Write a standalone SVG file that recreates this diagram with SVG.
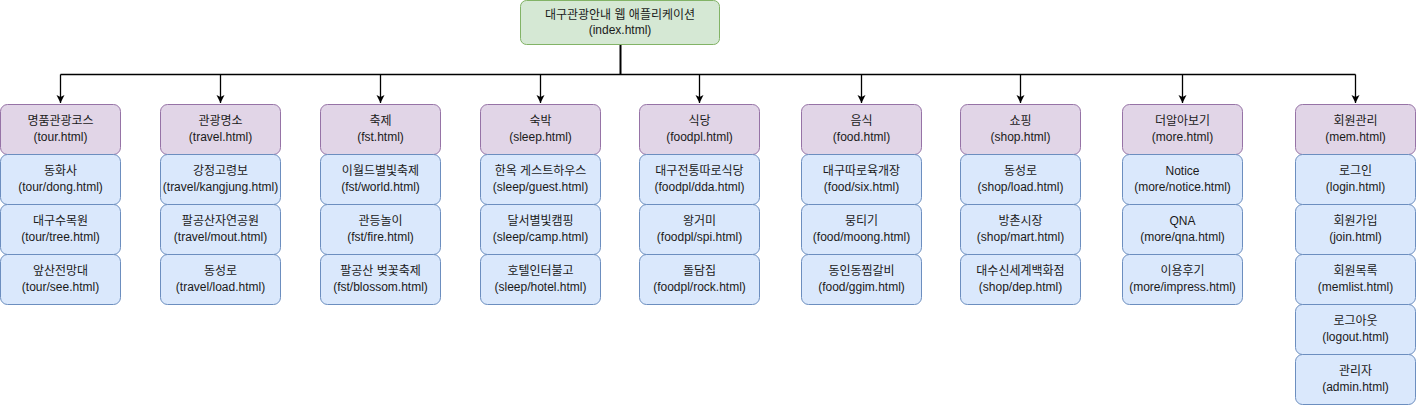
<svg xmlns="http://www.w3.org/2000/svg" width="1416" height="405" viewBox="0 0 1416 405">
<style>
text{font-family:"Liberation Sans","Noto Sans CJK KR",sans-serif;font-size:12px;fill:#1a1a1a;text-anchor:middle}
.root{fill:#d5e8d4;stroke:#82b366;stroke-width:1}
.cat{fill:#e1d5e7;stroke:#9673a6;stroke-width:1}
.sub{fill:#dae8fc;stroke:#6c8ebf;stroke-width:1}
.ln{fill:none;stroke:#000;stroke-width:1.3}
</style>
<defs>
<marker id="ah" markerWidth="10" markerHeight="10" refX="8" refY="4.5" orient="auto" markerUnits="userSpaceOnUse">
<path d="M0,0.5 L8,4.5 L0,8.5 L2,4.5 Z" fill="#000"/>
</marker>
</defs>
<g id="connectors">
<path class="ln" d="M620.5,44 V74" style="stroke-width:2"/>
<path class="ln" d="M60.5,74.5 H1355.5"/>
<path class="ln" d="M60.5,74.5 V103" marker-end="url(#ah)"/>
<path class="ln" d="M220.5,74.5 V103" marker-end="url(#ah)"/>
<path class="ln" d="M380.5,74.5 V103" marker-end="url(#ah)"/>
<path class="ln" d="M540.5,74.5 V103" marker-end="url(#ah)"/>
<path class="ln" d="M699.5,74.5 V103" marker-end="url(#ah)"/>
<path class="ln" d="M861.5,74.5 V103" marker-end="url(#ah)"/>
<path class="ln" d="M1020.5,74.5 V103" marker-end="url(#ah)"/>
<path class="ln" d="M1182.5,74.5 V103" marker-end="url(#ah)"/>
<path class="ln" d="M1355.5,74.5 V103" marker-end="url(#ah)"/>
</g>
<g id="root"><rect class="root" x="520.5" y="0.5" width="199" height="44" rx="6"/><text x="620" y="19">대구관광안내 웹 애플리케이션</text><text x="620" y="34">(index.html)</text></g>

<g id="tour"><rect class="cat" x="0.5" y="104.5" width="120" height="50" rx="7"/><text x="60.5" y="125">명품관광코스</text><text x="60.5" y="141">(tour.html)</text></g>
<g id="tour-dong"><rect class="sub" x="0.5" y="154.5" width="120" height="50" rx="7"/><text x="60.5" y="175">동화사</text><text x="60.5" y="191">(tour/dong.html)</text></g>
<g id="tour-tree"><rect class="sub" x="0.5" y="204.5" width="120" height="50" rx="7"/><text x="60.5" y="225">대구수목원</text><text x="60.5" y="241">(tour/tree.html)</text></g>
<g id="tour-see"><rect class="sub" x="0.5" y="254.5" width="120" height="50" rx="7"/><text x="60.5" y="275">앞산전망대</text><text x="60.5" y="291">(tour/see.html)</text></g>

<g id="travel"><rect class="cat" x="160.5" y="104.5" width="120" height="50" rx="7"/><text x="220.5" y="125">관광명소</text><text x="220.5" y="141">(travel.html)</text></g>
<g id="travel-kangjung"><rect class="sub" x="160.5" y="154.5" width="120" height="50" rx="7"/><text x="220.5" y="175">강정고령보</text><text x="220.5" y="191">(travel/kangjung.html)</text></g>
<g id="travel-mout"><rect class="sub" x="160.5" y="204.5" width="120" height="50" rx="7"/><text x="220.5" y="225">팔공산자연공원</text><text x="220.5" y="241">(travel/mout.html)</text></g>
<g id="travel-load"><rect class="sub" x="160.5" y="254.5" width="120" height="50" rx="7"/><text x="220.5" y="275">동성로</text><text x="220.5" y="291">(travel/load.html)</text></g>

<g id="fst"><rect class="cat" x="320.5" y="104.5" width="120" height="50" rx="7"/><text x="380.5" y="125">축제</text><text x="380.5" y="141">(fst.html)</text></g>
<g id="fst-world"><rect class="sub" x="320.5" y="154.5" width="120" height="50" rx="7"/><text x="380.5" y="175">이월드별빛축제</text><text x="380.5" y="191">(fst/world.html)</text></g>
<g id="fst-fire"><rect class="sub" x="320.5" y="204.5" width="120" height="50" rx="7"/><text x="380.5" y="225">관등놀이</text><text x="380.5" y="241">(fst/fire.html)</text></g>
<g id="fst-blossom"><rect class="sub" x="320.5" y="254.5" width="120" height="50" rx="7"/><text x="380.5" y="275">팔공산 벚꽃축제</text><text x="380.5" y="291">(fst/blossom.html)</text></g>

<g id="sleep"><rect class="cat" x="480.5" y="104.5" width="120" height="50" rx="7"/><text x="540.5" y="125">숙박</text><text x="540.5" y="141">(sleep.html)</text></g>
<g id="sleep-guest"><rect class="sub" x="480.5" y="154.5" width="120" height="50" rx="7"/><text x="540.5" y="175">한옥 게스트하우스</text><text x="540.5" y="191">(sleep/guest.html)</text></g>
<g id="sleep-camp"><rect class="sub" x="480.5" y="204.5" width="120" height="50" rx="7"/><text x="540.5" y="225">달서별빛캠핑</text><text x="540.5" y="241">(sleep/camp.html)</text></g>
<g id="sleep-hotel"><rect class="sub" x="480.5" y="254.5" width="120" height="50" rx="7"/><text x="540.5" y="275">호텔인터불고</text><text x="540.5" y="291">(sleep/hotel.html)</text></g>

<g id="foodpl"><rect class="cat" x="639.5" y="104.5" width="120" height="50" rx="7"/><text x="699.5" y="125">식당</text><text x="699.5" y="141">(foodpl.html)</text></g>
<g id="foodpl-dda"><rect class="sub" x="639.5" y="154.5" width="120" height="50" rx="7"/><text x="699.5" y="175">대구전통따로식당</text><text x="699.5" y="191">(foodpl/dda.html)</text></g>
<g id="foodpl-spi"><rect class="sub" x="639.5" y="204.5" width="120" height="50" rx="7"/><text x="699.5" y="225">왕거미</text><text x="699.5" y="241">(foodpl/spi.html)</text></g>
<g id="foodpl-rock"><rect class="sub" x="639.5" y="254.5" width="120" height="50" rx="7"/><text x="699.5" y="275">돌담집</text><text x="699.5" y="291">(foodpl/rock.html)</text></g>

<g id="food"><rect class="cat" x="801.5" y="104.5" width="120" height="50" rx="7"/><text x="861.5" y="125">음식</text><text x="861.5" y="141">(food.html)</text></g>
<g id="food-six"><rect class="sub" x="801.5" y="154.5" width="120" height="50" rx="7"/><text x="861.5" y="175">대구따로육개장</text><text x="861.5" y="191">(food/six.html)</text></g>
<g id="food-moong"><rect class="sub" x="801.5" y="204.5" width="120" height="50" rx="7"/><text x="861.5" y="225">뭉티기</text><text x="861.5" y="241">(food/moong.html)</text></g>
<g id="food-ggim"><rect class="sub" x="801.5" y="254.5" width="120" height="50" rx="7"/><text x="861.5" y="275">동인동찜갈비</text><text x="861.5" y="291">(food/ggim.html)</text></g>

<g id="shop"><rect class="cat" x="960.5" y="104.5" width="120" height="50" rx="7"/><text x="1020.5" y="125">쇼핑</text><text x="1020.5" y="141">(shop.html)</text></g>
<g id="shop-load"><rect class="sub" x="960.5" y="154.5" width="120" height="50" rx="7"/><text x="1020.5" y="175">동성로</text><text x="1020.5" y="191">(shop/load.html)</text></g>
<g id="shop-mart"><rect class="sub" x="960.5" y="204.5" width="120" height="50" rx="7"/><text x="1020.5" y="225">방촌시장</text><text x="1020.5" y="241">(shop/mart.html)</text></g>
<g id="shop-dep"><rect class="sub" x="960.5" y="254.5" width="120" height="50" rx="7"/><text x="1020.5" y="275">대수신세계백화점</text><text x="1020.5" y="291">(shop/dep.html)</text></g>

<g id="more"><rect class="cat" x="1122.5" y="104.5" width="120" height="50" rx="7"/><text x="1182.5" y="125">더알아보기</text><text x="1182.5" y="141">(more.html)</text></g>
<g id="more-notice"><rect class="sub" x="1122.5" y="154.5" width="120" height="50" rx="7"/><text x="1182.5" y="175">Notice</text><text x="1182.5" y="191">(more/notice.html)</text></g>
<g id="more-qna"><rect class="sub" x="1122.5" y="204.5" width="120" height="50" rx="7"/><text x="1182.5" y="225">QNA</text><text x="1182.5" y="241">(more/qna.html)</text></g>
<g id="more-impress"><rect class="sub" x="1122.5" y="254.5" width="120" height="50" rx="7"/><text x="1182.5" y="275">이용후기</text><text x="1182.5" y="291">(more/impress.html)</text></g>

<g id="mem"><rect class="cat" x="1295.5" y="104.5" width="120" height="50" rx="7"/><text x="1355.5" y="125">회원관리</text><text x="1355.5" y="141">(mem.html)</text></g>
<g id="mem-login"><rect class="sub" x="1295.5" y="154.5" width="120" height="50" rx="7"/><text x="1355.5" y="175">로그인</text><text x="1355.5" y="191">(login.html)</text></g>
<g id="mem-join"><rect class="sub" x="1295.5" y="204.5" width="120" height="50" rx="7"/><text x="1355.5" y="225">회원가입</text><text x="1355.5" y="241">(join.html)</text></g>
<g id="mem-list"><rect class="sub" x="1295.5" y="254.5" width="120" height="50" rx="7"/><text x="1355.5" y="275">회원목록</text><text x="1355.5" y="291">(memlist.html)</text></g>
<g id="mem-logout"><rect class="sub" x="1295.5" y="304.5" width="120" height="50" rx="7"/><text x="1355.5" y="325">로그아웃</text><text x="1355.5" y="341">(logout.html)</text></g>
<g id="mem-admin"><rect class="sub" x="1295.5" y="354.5" width="120" height="50" rx="7"/><text x="1355.5" y="375">관리자</text><text x="1355.5" y="391">(admin.html)</text></g>
</svg>
